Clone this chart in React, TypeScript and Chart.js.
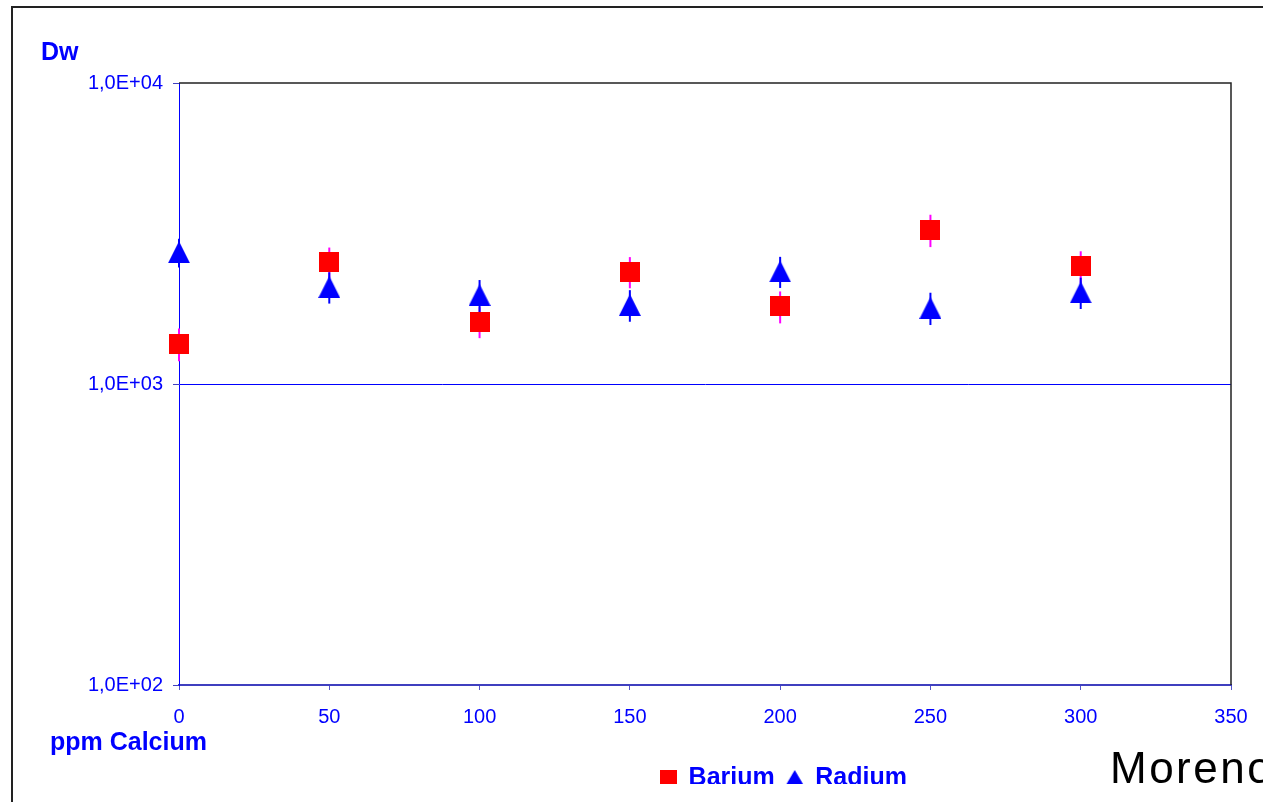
import React, { useEffect, useRef } from "react";
import { Chart, registerables } from "chart.js";

Chart.register(...registerables);

// ---- data ----
const calciumPpm = [0, 50, 100, 150, 200, 250, 300];
const bariumValues = [1360, 2540, 1610, 2360, 1810, 3250, 2460];
const bariumErrors = [170, 300, 190, 280, 220, 400, 300];
const radiumValues = [2740, 2100, 1975, 1830, 2365, 1790, 2015];
const radiumErrors = [300, 250, 240, 220, 280, 220, 240];
const yTickValues = [100, 1000, 10000];
const seriesNames = ["Barium", "Radium"];

const BLUE = "#0000ff";
const RED = "#ff0000";
const MAGENTA = "#ff00ff";
const FONT = "'Liberation Sans', Arial, sans-serif";

function makeSquare(w: number, h: number, color: string) {
  const c = document.createElement("canvas");
  c.width = w;
  c.height = h;
  const ctx = c.getContext("2d")!;
  ctx.fillStyle = color;
  ctx.fillRect(0, 0, w, h);
  return c;
}

function makeTriangle(w: number, h: number, color: string) {
  const c = document.createElement("canvas");
  c.width = w;
  c.height = h;
  const ctx = c.getContext("2d")!;
  ctx.fillStyle = color;
  ctx.beginPath();
  ctx.moveTo(w / 2, 0);
  ctx.lineTo(w, h);
  ctx.lineTo(0, h);
  ctx.closePath();
  ctx.fill();
  return c;
}

const errorBarPlugin = {
  id: "errorBars",
  beforeDatasetsDraw(chart: any) {
    const ctx = chart.ctx;
    const xs = chart.scales.x;
    const ys = chart.scales.y;
    const sets = [
      { v: bariumValues, e: bariumErrors, c: MAGENTA },
      { v: radiumValues, e: radiumErrors, c: BLUE },
    ];
    ctx.save();
    sets.forEach((s) => {
      ctx.strokeStyle = s.c;
      ctx.lineWidth = 2;
      s.v.forEach((v, i) => {
        const px = xs.getPixelForValue(calciumPpm[i]);
        const y1 = ys.getPixelForValue(v + s.e[i]);
        const y2 = ys.getPixelForValue(v - s.e[i]);
        ctx.beginPath();
        ctx.moveTo(px, y1);
        ctx.lineTo(px, y2);
        ctx.stroke();
      });
    });
    ctx.restore();
  },
};

const decorPlugin = {
  id: "decor",
  afterLayout(chart: any) {
    const lg = chart.legend;
    if (!lg) return;
    const w = lg.right - lg.left;
    const h = lg.bottom - lg.top;
    const cx = 783.5;
    lg.left = cx - w / 2;
    lg.right = cx + w / 2;
    lg.top = 754;
    lg.bottom = 754 + h;
  },
  afterDraw(chart: any) {
    const ctx = chart.ctx;
    const a = chart.chartArea;
    ctx.save();
    // plot area top / right border
    ctx.strokeStyle = "#222";
    ctx.lineWidth = 1.5;
    ctx.beginPath();
    ctx.moveTo(a.left, a.top);
    ctx.lineTo(a.right, a.top);
    ctx.lineTo(a.right, a.bottom);
    ctx.stroke();
    // outer frame
    ctx.strokeStyle = "#222";
    ctx.lineWidth = 2;
    ctx.strokeRect(12, 7, 2000, 2000);
    // axis titles
    ctx.fillStyle = BLUE;
    ctx.font = `bold 25px ${FONT}`;
    ctx.textBaseline = "alphabetic";
    ctx.textAlign = "left";
    ctx.fillText("Dw", 41, 60);
    ctx.fillText("ppm Calcium", 50, 750);
    // author note
    ctx.fillStyle = "#000";
    ctx.font = `44px ${FONT}`;
    (ctx as any).letterSpacing = "2.5px";
    ctx.fillText("Moreno", 1110, 783);
    ctx.restore();
  },
};

function expLabel(v: number) {
  const e = Math.round(Math.log10(v));
  return "1,0E+" + (e < 10 ? "0" + e : String(e));
}

export default function App() {
  const ref = useRef<HTMLCanvasElement | null>(null);

  useEffect(() => {
    if (!ref.current) return;
    const squareMark = makeSquare(20, 20, RED);
    const triangleMark = makeTriangle(22, 22, BLUE);
    const squareLegend = makeSquare(17, 17, RED);
    const triangleLegend = makeTriangle(20, 17, BLUE);

    const chart = new Chart(ref.current, {
      type: "scatter",
      data: {
        datasets: [
          {
            label: seriesNames[0],
            data: calciumPpm.map((x, i) => ({ x, y: bariumValues[i] })),
            pointStyle: squareMark as any,
            pointRadius: 10,
            backgroundColor: RED,
            borderColor: RED,
            showLine: false,
            clip: false as any,
          },
          {
            label: seriesNames[1],
            data: calciumPpm.map((x, i) => ({ x, y: radiumValues[i] })),
            pointStyle: triangleMark as any,
            pointRadius: 11,
            backgroundColor: BLUE,
            borderColor: BLUE,
            showLine: false,
            clip: false as any,
          },
        ],
      },
      options: {
        animation: false,
        responsive: false,
        devicePixelRatio: 1,
        events: [],
        layout: { padding: { left: 0, top: 83, right: 32, bottom: 0 } },
        plugins: {
          tooltip: { enabled: false },
          legend: {
            display: true,
            position: "bottom",
            maxHeight: 30,
            labels: {
              usePointStyle: true,
              boxWidth: 16,
              boxHeight: 16,
              padding: 12,
              color: BLUE,
              font: { family: FONT, size: 25, weight: "bold" },
              generateLabels: () => [
                {
                  text: seriesNames[0],
                  fillStyle: RED,
                  strokeStyle: RED,
                  lineWidth: 0,
                  pointStyle: squareLegend as any,
                  hidden: false,
                  datasetIndex: 0,
                  fontColor: BLUE,
                },
                {
                  text: seriesNames[1],
                  fillStyle: BLUE,
                  strokeStyle: BLUE,
                  lineWidth: 0,
                  pointStyle: triangleLegend as any,
                  hidden: false,
                  datasetIndex: 1,
                  fontColor: BLUE,
                },
              ],
            },
          },
        },
        scales: {
          x: {
            type: "linear",
            min: 0,
            max: 350,
            ticks: {
              stepSize: 50,
              color: BLUE,
              padding: 15,
              font: { family: FONT, size: 20 },
            },
            grid: {
              drawOnChartArea: false,
              drawTicks: true,
              tickLength: 5,
              tickColor: "#5555cc",
            },
            border: { display: true, color: "#3f3fbf", width: 2 },
            afterFit: (s: any) => {
              s.height = 87;
            },
          },
          y: {
            type: "logarithmic",
            min: 100,
            max: 10000,
            afterBuildTicks: (s: any) => {
              s.ticks = yTickValues.map((v) => ({ value: v }));
            },
            ticks: {
              color: BLUE,
              padding: 10,
              font: { family: FONT, size: 20 },
              callback: (v: any) => expLabel(Number(v)),
            },
            grid: {
              drawTicks: true,
              tickLength: 6,
              tickColor: "#4040c0",
              color: (c: any) =>
                c.tick && c.tick.value === 1000 ? BLUE : "rgba(0,0,0,0)",
              lineWidth: 1,
            },
            border: { display: true, color: BLUE, width: 1 },
            afterFit: (s: any) => {
              s.width = 179;
            },
          },
        },
      },
      plugins: [errorBarPlugin, decorPlugin],
    });
    return () => chart.destroy();
  }, []);

  return (
    <div style={{ position: "fixed", left: 0, top: 0, width: 1263, height: 802, background: "#fff" }}>
      <canvas ref={ref} width={1263} height={802} style={{ display: "block" }} />
    </div>
  );
}
